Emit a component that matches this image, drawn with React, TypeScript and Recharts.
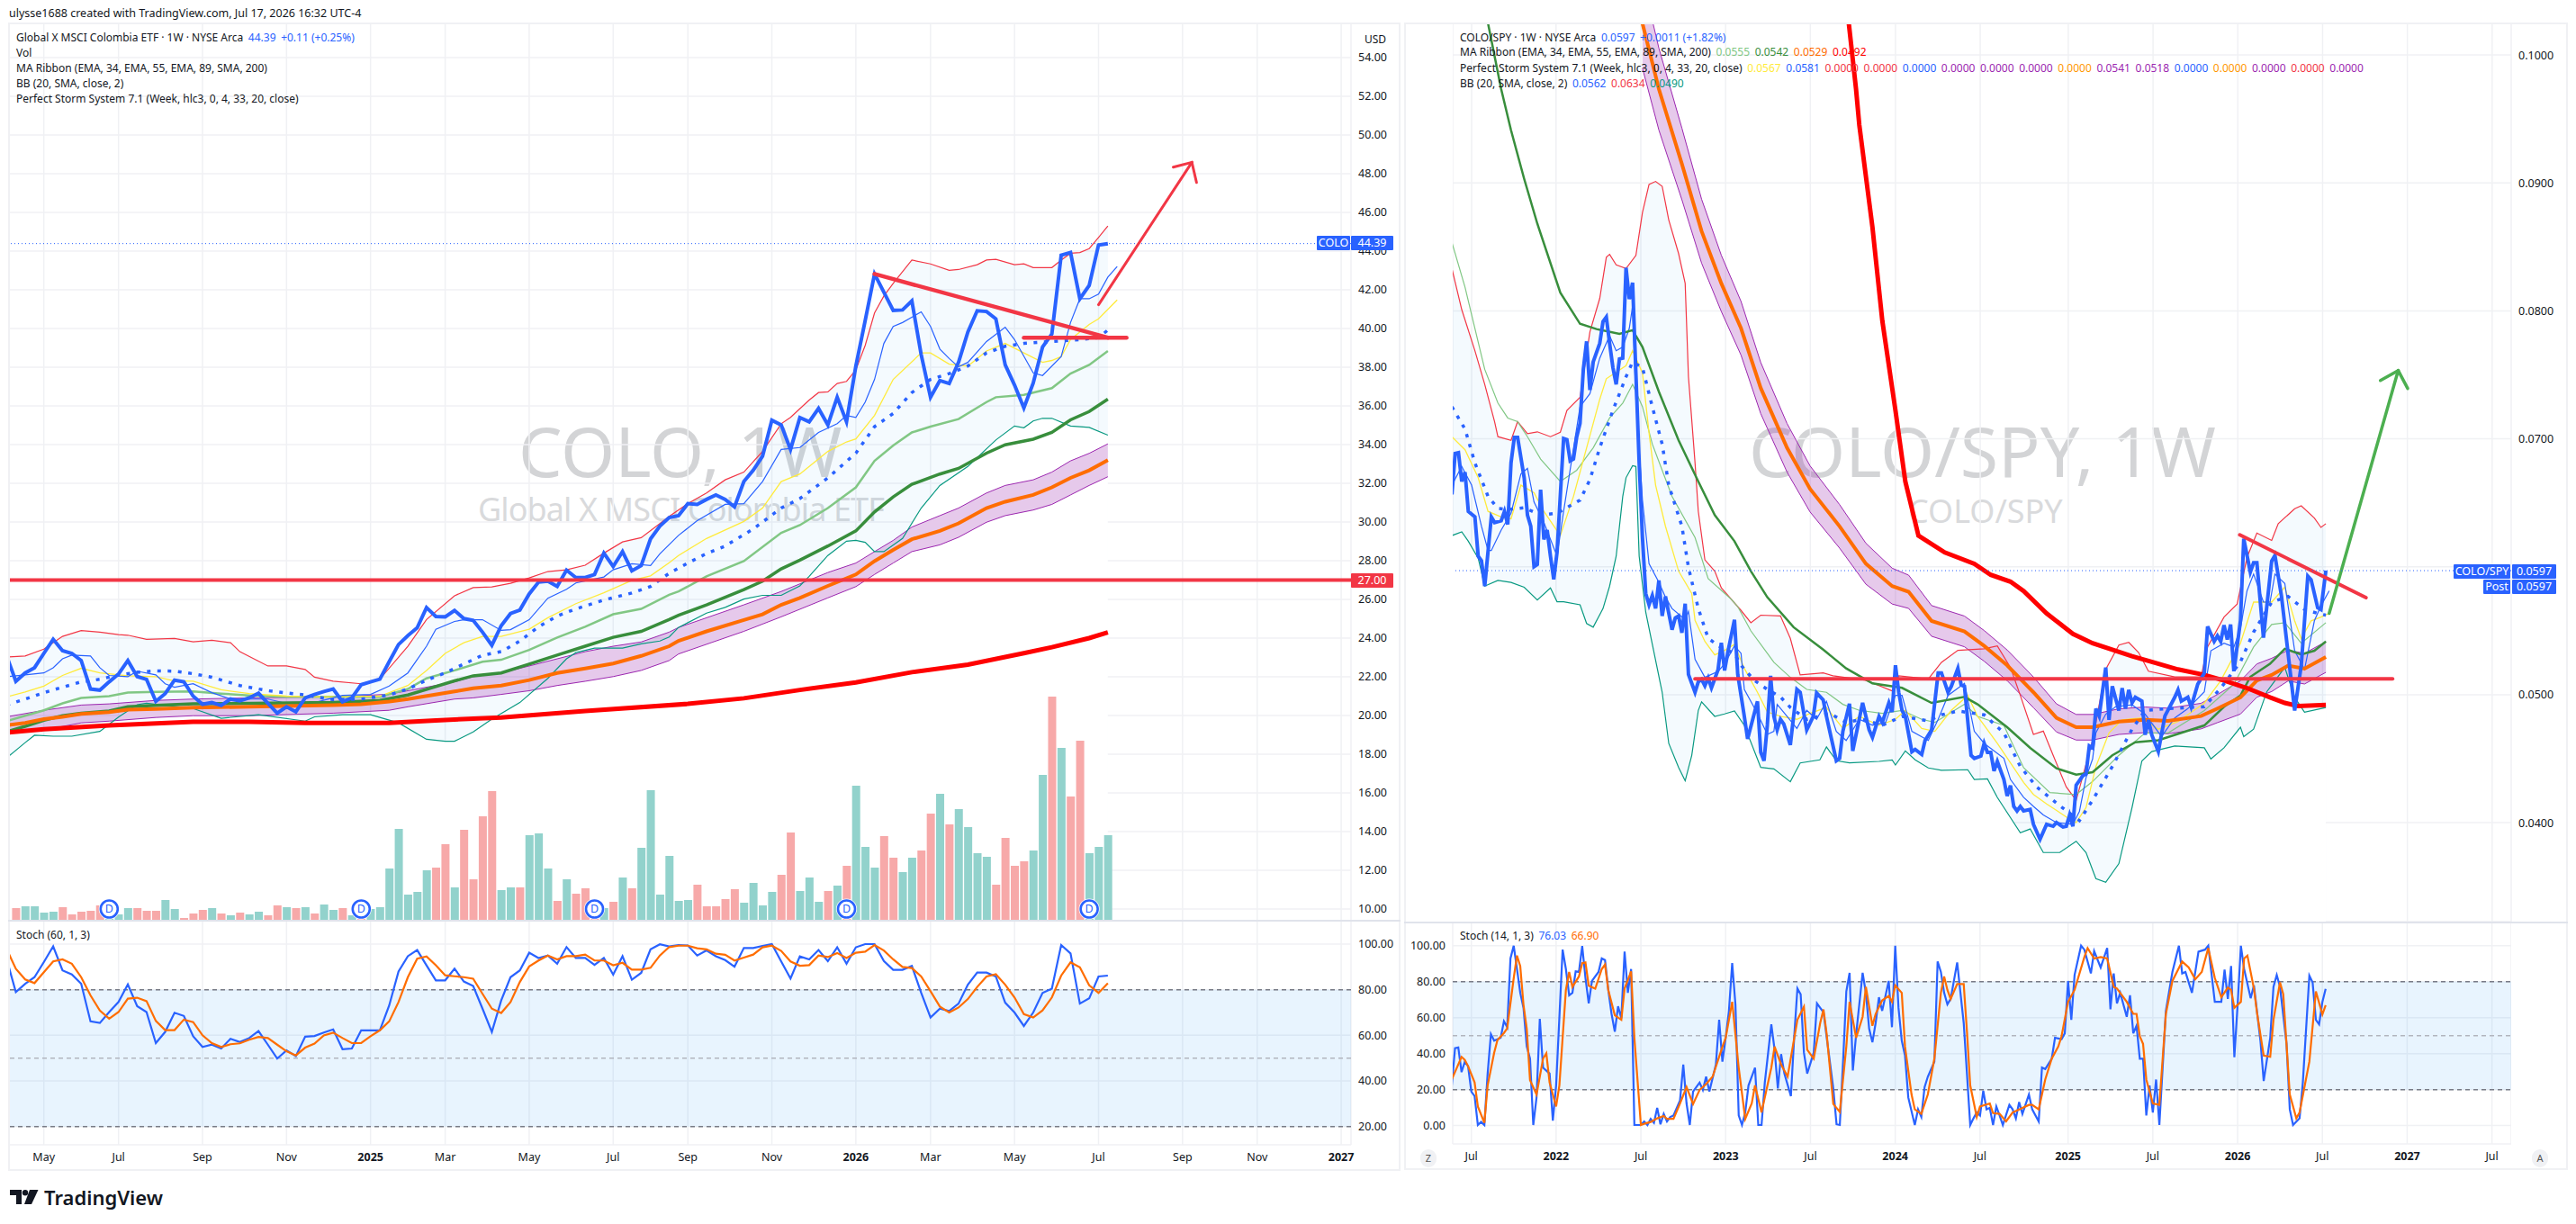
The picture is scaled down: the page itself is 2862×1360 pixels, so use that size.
import { Area, Bar, CartesianGrid, ComposedChart, Line, ReferenceArea, ReferenceDot, ReferenceLine, XAxis, YAxis } from "recharts";

type Pt = [number, number];

// ---- COLO weekly (left chart), week 0 = first full bar, one value per week from week -1
const coloClose = [23.1, 21.77, 22.2, 22.47, 23.21, 23.94, 23.35, 23.21, 22.84, 21.37, 21.31, 21.74, 22.14, 22.84, 22.01, 21.87, 20.73, 21.13, 21.83, 21.74, 21.0, 20.58, 20.67, 20.52, 20.85, 20.76, 20.91, 21.15, 20.63, 20.12, 20.45, 20.19, 20.91, 21.09, 21.24, 21.37, 20.71, 20.91, 21.59, 21.74, 21.88, 22.78, 23.67, 24.13, 24.53, 25.58, 25.12, 25.1, 25.43, 25.01, 24.92, 24.31, 23.63, 24.64, 25.27, 25.45, 26.28, 26.89, 26.94, 26.67, 27.51, 27.13, 27.13, 27.29, 28.39, 27.7, 28.47, 27.48, 27.75, 29.13, 29.79, 30.23, 30.33, 30.95, 30.91, 31.17, 31.4, 31.17, 30.78, 32.09, 32.67, 33.4, 35.26, 35.02, 33.75, 35.4, 35.18, 35.87, 35.02, 36.45, 35.18, 38.06, 40.41, 42.82, 41.88, 40.94, 40.96, 41.43, 38.65, 36.45, 37.31, 37.16, 38.25, 39.82, 40.92, 40.88, 40.5, 38.12, 37.08, 35.9, 37.18, 39.04, 39.72, 43.79, 43.93, 41.54, 42.23, 44.32, 44.39];
const coloStochK = [93.6, 79, 82.6, 85.5, 92.1, 99, 88.5, 86.7, 82.6, 66.1, 65.4, 70.2, 74.6, 82.3, 72.8, 70.2, 56.6, 61.5, 69.9, 68.5, 59.6, 54.9, 55.9, 54.2, 58.5, 57.1, 58.8, 61.9, 55.9, 49.8, 53.4, 50.9, 59.4, 59.7, 61.2, 62.6, 53.9, 54.2, 62.2, 62.2, 62.2, 73.1, 88, 94.7, 97.4, 90.7, 84.1, 84.1, 89.2, 83.6, 81.6, 71.7, 61.5, 75.3, 85.5, 88.5, 96.2, 93.9, 95, 91.4, 98.7, 93.9, 93.9, 90.9, 93.9, 86.6, 94.7, 84.4, 87.4, 97.7, 99.9, 99, 99.6, 99.4, 95, 97.2, 94.7, 93, 90.1, 98.3, 98.3, 99.2, 100, 92.4, 84.9, 94.6, 93.3, 97.4, 92.5, 98.6, 91.4, 98.6, 100, 100, 92.6, 88.7, 88.7, 90.4, 78.6, 67.8, 71.7, 70.7, 73.9, 82.2, 87.5, 87.5, 85.8, 74.3, 70, 64.1, 70, 78.6, 80.5, 99.6, 95.9, 73.9, 76.2, 85.8, 86.2];
const coloStochD = [98, 89.2, 84.5, 82.9, 87.7, 92.4, 93.3, 91.4, 85.5, 77.5, 70.9, 67.3, 70.2, 76.1, 76.5, 75, 66.3, 62.3, 62.3, 66.9, 65.8, 60, 56.6, 54.9, 56.1, 56.5, 58.1, 59.3, 58.8, 55.9, 53, 51.2, 54.6, 56.4, 60, 61.2, 58.8, 56.6, 56.6, 59.6, 62.2, 66.1, 74.6, 85.5, 93.6, 94.6, 90.7, 86.3, 85.9, 85.5, 84.8, 78.2, 71.7, 69.8, 74.6, 83.4, 90.2, 92.8, 95, 93.3, 94.7, 94.7, 95.4, 92.8, 92.8, 90.7, 91.8, 88.8, 88.8, 89.6, 95, 98.7, 99.3, 99.3, 98.2, 97.7, 95.8, 95.3, 92.8, 94.1, 95.4, 98.6, 99.3, 97, 92.4, 90.5, 90.8, 95, 94.3, 96.1, 93.9, 96.2, 96.7, 99.6, 97.2, 93.3, 90, 89.5, 85.8, 79.3, 72.6, 70, 72.2, 75.9, 81.2, 85.8, 86.8, 82.2, 76.6, 69.3, 67.8, 70.9, 76.6, 86.2, 92, 89.8, 81.9, 78.6, 82.8];

// volume in thousands of shares, from week 0; up[] holds 1 for a green bar
const coloVolume = [14, 16, 16, 9, 10, 15, 7, 10, 11, 17, 6, 7, 14, 14, 11, 11, 23, 13, 3, 8, 12, 14, 8, 6, 9, 7, 10, 6, 17, 15, 14, 15, 8, 18, 12, 14, 6, 8, 13, 15, 58, 102, 29, 32, 56, 59, 85, 37, 101, 46, 116, 144, 34, 37, 37, 95, 97, 58, 22, 46, 30, 36, 14, 14, 21, 48, 36, 81, 145, 29, 72, 22, 23, 40, 16, 16, 24, 35, 20, 42, 17, 32, 51, 98, 33, 48, 21, 33, 39, 61, 150, 82, 59, 94, 70, 54, 70, 78, 119, 141, 107, 124, 104, 75, 71, 40, 92, 61, 66, 78, 162, 249, 192, 138, 200, 75, 82, 95];
const coloVolumeUp = [0, 1, 1, 1, 1, 0, 0, 0, 0, 0, 1, 1, 1, 0, 0, 0, 1, 1, 0, 0, 0, 1, 0, 1, 0, 1, 1, 0, 0, 1, 0, 1, 0, 1, 1, 0, 1, 0, 1, 1, 1, 1, 1, 1, 1, 0, 0, 1, 0, 0, 0, 0, 1, 1, 0, 1, 1, 1, 0, 1, 0, 0, 0, 1, 0, 1, 0, 1, 1, 1, 1, 1, 1, 0, 0, 0, 0, 0, 1, 1, 1, 1, 0, 0, 1, 1, 1, 0, 1, 0, 1, 1, 1, 0, 0, 1, 1, 0, 0, 1, 0, 1, 1, 1, 1, 0, 0, 0, 0, 1, 1, 0, 1, 0, 0, 1, 1, 1];
const coloDividends = [10, 37, 62, 89, 115];

const coloBbUpper: Pt[] = [[-1, 23.02], [1, 23.08], [3, 23.43], [5, 24.09], [7, 24.39], [9, 24.31], [11, 24.18], [12, 24.15], [14, 23.94], [17, 23.98], [19, 23.81], [21, 23.89], [23, 23.76], [24, 23.3], [27, 22.56], [29, 22.56], [31, 22.38], [32, 21.98], [34, 21.77], [37, 21.64], [39, 21.88], [42, 23.58], [44, 24.96], [47, 26.19], [49, 26.61], [51, 26.65], [53, 26.83], [55, 27.11], [57, 27.44], [59, 27.53], [61, 27.77], [63, 28.39], [65, 28.97], [67, 29.19], [69, 29.92], [70, 30.29], [72, 30.95], [74, 31.5], [76, 32.18], [78, 32.58], [80, 33.65], [82, 35.08], [83, 35.41], [85, 36.3], [86, 36.69], [87, 36.73], [88, 37.16], [89, 37.27], [90, 37.86], [91, 39.13], [92, 40.8], [93, 41.68], [94, 42.33], [96, 43.54], [98, 43.34], [100, 43.01], [101, 43.05], [103, 43.3], [104, 43.54], [105, 43.58], [107, 43.3], [108, 43.34], [109, 43.15], [111, 43.15], [112, 43.54], [113, 43.89], [114, 43.93], [115, 44.13], [116, 44.71], [117, 45.3]];
const coloBbLower: Pt[] = [[-1, 17.8], [1, 18.6], [2, 18.98], [4, 18.93], [6, 18.93], [9, 19.18], [11, 19.92], [13, 20.56], [14, 20.63], [19, 20.36], [22, 19.86], [26, 20.04], [31, 19.71], [32, 19.93], [35, 20.04], [38, 20.04], [41, 19.62], [44, 18.77], [46, 18.67], [47, 18.67], [49, 19.15], [51, 19.81], [54, 20.67], [57, 21.92], [59, 22.93], [60, 23.25], [62, 23.48], [65, 23.48], [67, 23.7], [69, 23.85], [70, 24.06], [71, 24.55], [74, 25.29], [76, 25.59], [78, 26.02], [80, 26.21], [82, 26.21], [84, 26.7], [85, 27.19], [87, 28.27], [89, 29.01], [90, 29.05], [91, 28.95], [92, 28.47], [93, 28.47], [95, 29.15], [97, 30.72], [99, 31.89], [102, 32.87], [105, 34.24], [107, 34.96], [108, 34.87], [109, 35.22], [110, 35.36], [111, 35.36], [113, 34.96], [115, 34.89], [117, 34.49]];
const coloBbBasis: Pt[] = [[-1, 20.54], [1, 20.85], [3, 21.18], [5, 21.46], [7, 21.74], [9, 21.87], [11, 22.1], [13, 22.23], [15, 22.31], [17, 22.29], [19, 22.16], [21, 21.98], [24, 21.55], [27, 21.28], [31, 21.06], [34, 20.82], [37, 20.85], [40, 21.06], [42, 21.37], [44, 21.83], [46, 22.2], [48, 22.66], [50, 23.12], [52, 23.3], [54, 23.85], [56, 24.59], [58, 25.14], [60, 25.51], [63, 25.97], [66, 26.33], [68, 26.67], [70, 27.35], [72, 27.88], [74, 28.37], [76, 28.76], [79, 29.64], [82, 30.72], [84, 31.21], [87, 32.28], [90, 33.56], [92, 34.93], [94, 35.61], [96, 36.69], [98, 37.37], [100, 37.67], [102, 38.06], [104, 38.74], [106, 39.08], [108, 39.23], [111, 39.33], [114, 39.43], [116, 39.53], [117, 39.92]];
const coloStormBlue: Pt[] = [[-1, 22.01], [1, 22.1], [3, 22.2], [4, 22.47], [5, 22.93], [6, 23.12], [8, 23.08], [9, 22.47], [10, 22.07], [12, 22.01], [13, 22.29], [15, 22.1], [16, 21.64], [17, 21.46], [19, 21.64], [21, 21.18], [23, 20.85], [27, 20.85], [29, 20.63], [31, 20.54], [35, 21.04], [38, 21.09], [40, 21.52], [42, 22.2], [44, 23.58], [45, 24.46], [47, 24.86], [48, 24.95], [50, 24.95], [52, 24.4], [53, 24.44], [55, 24.95], [57, 26.06], [59, 26.52], [60, 26.85], [63, 27.16], [64, 27.53], [66, 27.84], [68, 27.75], [69, 28.36], [71, 29.31], [73, 30.07], [76, 30.91], [78, 30.95], [80, 32.09], [82, 33.75], [84, 33.85], [86, 34.63], [88, 35.08], [89, 35.51], [90, 35.41], [91, 36.2], [92, 37.37], [93, 39.23], [94, 40.11], [95, 40.31], [97, 40.86], [98, 40.11], [99, 38.94], [100, 38.45], [101, 38.02], [102, 38.25], [104, 39.33], [106, 40.07], [107, 39.43], [109, 37.71], [110, 37.57], [112, 38.55], [113, 40.31], [114, 41.54], [115, 41.54], [116, 41.78], [117, 42.66], [118, 43.21]];
const coloStormYellow: Pt[] = [[-1, 20.96], [1, 21.22], [3, 21.52], [5, 22.07], [7, 22.44], [9, 22.2], [12, 22.05], [15, 22.01], [17, 21.79], [19, 21.77], [22, 21.33], [25, 21.13], [29, 21], [34, 20.96], [39, 21], [42, 21.55], [44, 22.33], [46, 23.21], [48, 23.76], [50, 24.09], [52, 24.09], [55, 24.46], [57, 25.05], [60, 25.78], [63, 26.34], [66, 26.98], [68, 27.22], [70, 27.9], [71, 28.27], [74, 29.15], [78, 30.03], [80, 30.72], [82, 32.09], [84, 32.48], [87, 33.65], [89, 34.14], [90, 34.3], [92, 35.51], [94, 37.37], [97, 38.74], [98, 38.74], [100, 38.16], [102, 38.06], [104, 38.84], [106, 39.23], [108, 38.74], [110, 38.25], [111, 38.35], [112, 38.55], [113, 39.43], [115, 40.21], [116, 40.5], [118, 41.48]];
const coloEma34: Pt[] = [[-1, 19.71], [1, 19.99], [3, 20.27], [5, 20.63], [7, 20.91], [10, 21], [12, 21.19], [15, 21.22], [19, 21.24], [22, 21.13], [25, 21.04], [29, 20.96], [34, 20.96], [39, 20.96], [42, 21.37], [44, 21.92], [47, 22.33], [50, 22.78], [52, 22.88], [55, 23.39], [58, 24.03], [61, 24.59], [64, 25.23], [67, 25.51], [70, 26.24], [71, 26.41], [74, 27.19], [78, 27.98], [82, 29.44], [84, 29.84], [87, 30.72], [90, 31.79], [92, 33.16], [94, 33.95], [96, 34.63], [98, 34.93], [101, 35.32], [104, 36.2], [105, 36.45], [108, 36.57], [111, 36.92], [113, 37.67], [115, 38.12], [117, 38.84]];
const coloEma55: Pt[] = [[-1, 19.16], [1, 19.44], [3, 19.75], [5, 19.99], [7, 20.12], [10, 20.23], [12, 20.45], [15, 20.52], [19, 20.6], [25, 20.63], [34, 20.67], [39, 20.78], [42, 21.06], [47, 21.79], [49, 22.05], [52, 22.2], [55, 22.66], [58, 23.12], [61, 23.58], [64, 24.04], [67, 24.35], [70, 24.96], [71, 25.18], [74, 25.72], [78, 26.51], [80, 26.94], [82, 27.58], [84, 28.03], [87, 28.76], [90, 29.54], [92, 30.52], [94, 31.3], [96, 31.95], [99, 32.48], [101, 32.77], [104, 33.56], [106, 33.99], [109, 34.28], [111, 34.63], [113, 35.28], [115, 35.71], [117, 36.35]];
const coloEma89: Pt[] = [[-1, 19.49], [1, 19.62], [3, 19.81], [5, 19.93], [7, 20.08], [10, 20.17], [12, 20.3], [15, 20.34], [19, 20.41], [25, 20.45], [34, 20.54], [37, 20.58], [40, 20.72], [42, 20.85], [47, 21.24], [49, 21.41], [52, 21.55], [55, 21.83], [58, 22.2], [61, 22.43], [64, 22.69], [67, 23.08], [70, 23.58], [71, 23.86], [74, 24.35], [78, 24.94], [80, 25.23], [82, 25.72], [84, 26.08], [87, 26.7], [90, 27.29], [92, 27.98], [94, 28.56], [96, 29.11], [99, 29.54], [101, 29.93], [104, 30.72], [106, 31.05], [109, 31.4], [111, 31.79], [113, 32.28], [115, 32.67], [117, 33.2]];
const coloSma200: Pt[] = [[-1, 19.12], [3, 19.29], [10, 19.49], [19, 19.68], [25, 19.68], [31, 19.62], [40, 19.62], [45, 19.75], [52, 19.9], [61, 20.23], [72, 20.6], [78, 20.89], [84, 21.32], [90, 21.71], [96, 22.24], [102, 22.63], [108, 23.22], [111, 23.53], [115, 24], [117, 24.3]];
const coloRibbonWeeks = [-1, 3, 7, 10, 15, 19, 25, 34, 40, 42, 47, 49, 52, 55, 58, 61, 64, 67, 70, 71, 78, 82, 87, 90, 92, 94, 96, 99, 101, 104, 106, 109, 111, 113, 115, 117];
const coloRibbonUpper = [19.93, 20.27, 20.54, 20.6, 20.78, 20.85, 20.91, 20.96, 21.1, 21.28, 21.74, 22.01, 22.2, 22.56, 22.93, 23.3, 23.58, 23.8, 24.31, 24.55, 25.72, 26.41, 27.39, 27.88, 28.47, 29.05, 29.74, 30.33, 30.72, 31.5, 31.89, 32.18, 32.58, 33.16, 33.55, 34.04];
const coloRibbonLower = [19.07, 19.25, 19.62, 19.71, 19.9, 19.99, 19.99, 20.12, 20.27, 20.45, 20.85, 20.91, 21.09, 21.28, 21.55, 21.77, 22.01, 22.33, 22.84, 23.18, 24.35, 25.1, 26.08, 26.66, 27.29, 27.88, 28.47, 28.82, 29.21, 29.99, 30.33, 30.62, 30.91, 31.4, 31.89, 32.34];

const coloTrend: Pt[] = [[92, 42.82], [117, 39.53]];
const coloBreakout: Pt[] = [[108, 39.53], [119, 39.53]];
const coloArrow: Pt[] = [[116, 41.23], [126, 48.59]];
const coloArrowHeadA: Pt[] = [[124, 48.34], [126, 48.59]];
const coloArrowHeadB: Pt[] = [[126.5, 47.55], [126, 48.59]];

const coloPriceTicks = [10, 12, 14, 16, 18, 20, 22, 24, 26, 28, 30, 32, 34, 36, 38, 40, 42, 44, 46, 48, 50, 52, 54];
const coloStochTicks = [20, 40, 60, 80, 100];
const coloTimeTicks = [3, 11, 20, 29, 38, 46, 55, 64, 72, 81, 90, 98, 107, 116, 125, 133, 142];
const coloTimeLabels = ["May", "Jul", "Sep", "Nov", "2025", "Mar", "May", "Jul", "Sep", "Nov", "2026", "Mar", "May", "Jul", "Sep", "Nov", "2027"];

// ---- COLO/SPY weekly (right chart), week 0 = first week of Jul 2021
const ratioClose: Pt[] = [[-6, 0.06565], [-5, 0.06886], [-4, 0.06892], [-3, 0.06667], [-2, 0.0674], [-1, 0.06433], [1, 0.0639], [2, 0.06083], [3, 0.06048], [4, 0.05849], [6, 0.0639], [7, 0.06346], [9, 0.0636], [10, 0.06433], [11, 0.06331], [12, 0.06813], [13, 0.07012], [14, 0.07012], [16, 0.06696], [17, 0.06404], [18, 0.06317], [19, 0.06001], [20, 0.06019], [21, 0.06603], [22, 0.06214], [23, 0.06287], [24, 0.06083], [25, 0.05902], [26, 0.06112], [28, 0.07003], [29, 0.06994], [30, 0.06828], [31, 0.06842], [32, 0.07017], [33, 0.0712], [34, 0.07543], [35, 0.07762], [36, 0.07382], [37, 0.07601], [39, 0.07747], [40, 0.07917], [41, 0.07952], [42, 0.07747], [43, 0.07558], [44, 0.07426], [45, 0.07625], [46, 0.07631], [47, 0.08337], [48, 0.08092], [49, 0.0822], [50, 0.07514], [51, 0.06813], [52, 0.06229], [53, 0.05791], [54, 0.05703], [55, 0.05776], [56, 0.05674], [57, 0.05893], [58, 0.05616], [59, 0.05768], [61, 0.05508], [62, 0.05601], [63, 0.05616], [64, 0.05484], [65, 0.05712], [66, 0.05159], [67, 0.05089], [68, 0.05019], [69, 0.05101], [70, 0.0512], [71, 0.0507], [72, 0.05131], [73, 0.05054], [75, 0.05195], [76, 0.05406], [77, 0.0519], [78, 0.05335], [80, 0.05586], [81, 0.05159], [82, 0.04995], [83, 0.04831], [84, 0.04655], [87, 0.04948], [88, 0.0455], [89, 0.04484], [90, 0.04761], [91, 0.05148], [92, 0.04831], [93, 0.04725], [94, 0.04808], [95, 0.04772], [97, 0.04608], [98, 0.04831], [99, 0.05042], [100, 0.05019], [102, 0.04725], [104, 0.04831], [105, 0.05014], [107, 0.0496], [108, 0.04831], [111, 0.04484], [112, 0.04503], [113, 0.04714], [115, 0.0493], [116, 0.04561], [119, 0.04937], [121, 0.04725], [122, 0.04667], [124, 0.04831], [125, 0.04784], [127, 0.04937], [128, 0.04866], [129, 0.0523], [130, 0.05019], [131, 0.04878], [132, 0.04831], [134, 0.04554], [135, 0.04573], [137, 0.04533], [138, 0.04643], [140, 0.04725], [142, 0.05171], [143, 0.05171], [145, 0.05019], [146, 0.05066], [148, 0.05206], [149, 0.05077], [150, 0.05066], [152, 0.04526], [153, 0.04503], [155, 0.04521], [156, 0.0462], [157, 0.0455], [158, 0.0455], [159, 0.04404], [160, 0.04479], [162, 0.04338], [163, 0.04209], [164, 0.04291], [165, 0.04127], [166, 0.04092], [167, 0.04127], [168, 0.04092], [170, 0.04104], [171, 0.03987], [173, 0.0387], [175, 0.03987], [177, 0.03972], [178, 0.04001], [180, 0.03966], [181, 0.03972], [182, 0.0406], [183, 0.03972], [184, 0.04293], [186, 0.04366], [187, 0.04381], [188, 0.046], [189, 0.04585], [190, 0.04892], [191, 0.04833], [193, 0.05213], [194, 0.04804], [195, 0.05067], [197, 0.04877], [198, 0.05052], [199, 0.04892], [200, 0.05038], [201, 0.04936], [202, 0.0498], [204, 0.0495], [205, 0.04687], [206, 0.04804], [207, 0.04687], [209, 0.04556], [211, 0.04833], [214, 0.0498], [215, 0.05038], [216, 0.0495], [218, 0.0498], [219, 0.04906], [221, 0.05082], [223, 0.05169], [224, 0.05534], [226, 0.05417], [227, 0.05461], [228, 0.05417], [229, 0.05543], [230, 0.05432], [231, 0.05549], [232, 0.05184], [234, 0.05578], [235, 0.0622], [237, 0.05958], [238, 0.06031], [239, 0.06031], [241, 0.05446], [243.5, 0.06045], [244.5, 0.06089], [246.5, 0.05768], [250.5, 0.04877], [252.5, 0.05228], [254.5, 0.05928], [255.5, 0.05899], [257.5, 0.0568], [258.5, 0.05666], [260, 0.0597]];
const ratioBbUpper: Pt[] = [[-6, 0.08331], [-3, 0.0801], [1, 0.07689], [4, 0.07426], [7, 0.07134], [8, 0.07017], [12, 0.06988], [14, 0.07134], [17, 0.07041], [20, 0.07055], [24, 0.07017], [27, 0.07052], [29, 0.07222], [33, 0.07324], [36, 0.07835], [39, 0.08098], [41, 0.08419], [42, 0.08442], [44, 0.0836], [47, 0.08331], [50, 0.08434], [52, 0.08769], [54, 0.08988], [56, 0.09012], [58, 0.08974], [60, 0.08711], [63, 0.08448], [65, 0.08215], [66, 0.07484], [68, 0.06813], [69, 0.06433], [71, 0.06054], [74, 0.05966], [76, 0.05835], [79, 0.05747], [82, 0.05659], [85, 0.05563], [88, 0.05622], [94, 0.05616], [97, 0.05441], [100, 0.05155], [104, 0.05164], [107, 0.05171], [110, 0.05148], [120, 0.05113], [128, 0.0503], [130, 0.05148], [139, 0.05124], [143, 0.05253], [148, 0.05347], [156, 0.05359], [160, 0.05382], [164, 0.05213], [167, 0.04995], [171, 0.0469], [174, 0.04716], [177, 0.04527], [181, 0.04279], [184, 0.04176], [189, 0.04643], [193, 0.05198], [197, 0.05388], [200, 0.05409], [203, 0.0533], [206, 0.05184], [214, 0.0514], [222, 0.0514], [224, 0.05374], [229, 0.05607], [233, 0.05709], [236, 0.06074], [239, 0.06264], [243.5, 0.06206], [245.5, 0.06337], [250.5, 0.06454], [252.5, 0.06477], [256.5, 0.06381], [258.5, 0.06308], [260, 0.06337]];
const ratioBbLower: Pt[] = [[-6, 0.06244], [-3, 0.06273], [-1, 0.062], [2, 0.06068], [4, 0.05849], [8, 0.05893], [12, 0.05878], [16, 0.0584], [20, 0.05741], [24, 0.05835], [26, 0.05727], [28, 0.05727], [33, 0.05703], [35, 0.05557], [37, 0.05528], [40, 0.05674], [42, 0.05849], [44, 0.06083], [46, 0.0655], [47, 0.06696], [49, 0.0679], [50, 0.06784], [51, 0.06083], [53, 0.05645], [55, 0.05394], [58, 0.05019], [60, 0.0462], [63, 0.04432], [65, 0.04327], [67, 0.04526], [69, 0.04878], [70, 0.04944], [74, 0.04831], [77, 0.0485], [80, 0.04873], [83, 0.04761], [88, 0.04432], [92, 0.0442], [97, 0.0432], [100, 0.04467], [106, 0.04491], [108, 0.04592], [111, 0.04484], [115, 0.04467], [124, 0.04479], [128, 0.04491], [129, 0.04451], [132, 0.04561], [135, 0.04491], [139, 0.04428], [143, 0.04409], [151, 0.04414], [153, 0.04338], [157, 0.04343], [160, 0.04198], [167, 0.03921], [170, 0.03951], [174, 0.03767], [179, 0.03767], [184, 0.03855], [187, 0.03767], [190, 0.03563], [193, 0.03534], [197, 0.0368], [201, 0.04118], [204, 0.04483], [207, 0.04556], [214, 0.046], [223, 0.04585], [225, 0.04498], [229, 0.04585], [234, 0.04746], [235, 0.04673], [238, 0.04731], [242, 0.05023], [247.5, 0.05213], [250.5, 0.04979], [253.5, 0.04863], [260, 0.049]];
const ratioBbBasis: Pt[] = [[-6, 0.07251], [-2, 0.07076], [1, 0.06813], [5, 0.0655], [8, 0.06457], [11, 0.06448], [16, 0.06462], [21, 0.06404], [26, 0.06419], [33, 0.06521], [36, 0.06681], [39, 0.0693], [43, 0.07222], [47, 0.07485], [49, 0.07601], [52, 0.07558], [55, 0.07251], [58, 0.06959], [60, 0.06638], [64, 0.06317], [66, 0.05995], [69, 0.05674], [72, 0.05441], [76, 0.05368], [80, 0.05323], [82, 0.0523], [86, 0.05113], [90, 0.05042], [94, 0.04983], [97, 0.04901], [102, 0.04808], [109, 0.04854], [114, 0.04784], [119, 0.04808], [125, 0.04761], [131, 0.04831], [139, 0.04796], [143, 0.04843], [148, 0.04873], [156, 0.04843], [162, 0.04702], [167, 0.04439], [172, 0.04279], [179, 0.04133], [185, 0.04016], [189, 0.04176], [195, 0.04439], [201, 0.04731], [205, 0.04877], [212, 0.04892], [223, 0.04906], [228, 0.05052], [234, 0.05257], [238, 0.0549], [243.5, 0.05724], [248.5, 0.05768], [253.5, 0.05666], [257.5, 0.05636], [260, 0.05622]];
const ratioStormBlue: Pt[] = [[-6, 0.06638], [-3, 0.06784], [0, 0.06638], [3, 0.06317], [5, 0.06127], [6, 0.06127], [9, 0.06287], [12, 0.06419], [15, 0.06726], [17, 0.06769], [19, 0.06506], [22, 0.06346], [26, 0.06083], [28, 0.06433], [33, 0.07251], [36, 0.07353], [39, 0.07631], [42, 0.07806], [44, 0.07689], [46, 0.07718], [48, 0.07864], [49, 0.0804], [50, 0.07309], [52, 0.06521], [54, 0.06024], [57, 0.05879], [59, 0.05762], [61, 0.05674], [65, 0.05587], [66, 0.05652], [68, 0.05277], [71, 0.05136], [75, 0.05183], [77, 0.05242], [80, 0.05382], [82, 0.05324], [83, 0.05042], [87, 0.04854], [90, 0.0469], [92, 0.04714], [93, 0.04925], [96, 0.04831], [99, 0.04737], [102, 0.04878], [105, 0.04808], [108, 0.04948], [111, 0.04714], [114, 0.04643], [118, 0.04808], [122, 0.04761], [126, 0.04784], [129, 0.04995], [131, 0.04995], [134, 0.04714], [139, 0.04643], [142, 0.04808], [145, 0.04995], [150, 0.05089], [153, 0.04714], [156, 0.0462], [162, 0.04503], [164, 0.04338], [168, 0.04198], [171, 0.04127], [174, 0.0406], [178, 0.04001], [183, 0.03987], [185, 0.04089], [187, 0.04352], [189, 0.04498], [190, 0.04702], [193, 0.04848], [196, 0.04906], [201, 0.04921], [205, 0.04848], [210, 0.04673], [214, 0.04819], [218, 0.04892], [223, 0.05023], [225, 0.05344], [229, 0.05403], [232, 0.05373], [234, 0.05519], [236, 0.05812], [238, 0.05943], [241, 0.05724], [243, 0.05724], [244.5, 0.05943], [247.5, 0.0587], [250.5, 0.05344], [253.5, 0.05198], [256.5, 0.05578], [258.5, 0.05695], [261, 0.05812]];
const ratioStormYellow: Pt[] = [[-6, 0.07017], [-2, 0.06915], [2, 0.06696], [5, 0.06433], [9, 0.0639], [12, 0.06375], [15, 0.06638], [19, 0.06579], [22, 0.06433], [27, 0.06244], [31, 0.0655], [35, 0.0693], [39, 0.07309], [41, 0.0747], [47, 0.07572], [49, 0.07689], [52, 0.07514], [54, 0.07047], [56, 0.06638], [59, 0.06317], [63, 0.05966], [67, 0.05791], [68, 0.05582], [71, 0.05417], [74, 0.05312], [77, 0.05347], [80, 0.05394], [83, 0.05206], [87, 0.05019], [90, 0.04866], [94, 0.04831], [99, 0.04808], [103, 0.04854], [108, 0.04901], [113, 0.04737], [118, 0.04831], [124, 0.04761], [129, 0.04808], [132, 0.04878], [137, 0.04737], [141, 0.04714], [146, 0.04878], [151, 0.04995], [154, 0.04831], [160, 0.0462], [168, 0.04315], [171, 0.04221], [175, 0.04147], [181, 0.04045], [184, 0.04001], [187, 0.04118], [190, 0.04439], [194, 0.04702], [198, 0.04804], [204, 0.04819], [209, 0.04731], [215, 0.0479], [223, 0.04935], [228, 0.0511], [234, 0.05403], [238, 0.05724], [243.5, 0.05724], [247.5, 0.05841], [250.5, 0.05578], [252.5, 0.05438], [255.5, 0.05578], [258.5, 0.05607], [261, 0.05636]];
const ratioEma34: Pt[] = [[-6, 0.08536], [-2, 0.08185], [1, 0.07864], [4, 0.07543], [8, 0.0728], [11, 0.07163], [14, 0.07134], [17, 0.07017], [21, 0.06842], [27, 0.06667], [32, 0.06755], [37, 0.0693], [42, 0.07163], [46, 0.0728], [49, 0.07426], [52, 0.07251], [55, 0.06959], [61, 0.0655], [68, 0.06229], [72, 0.05908], [79, 0.05747], [81, 0.05689], [85, 0.05499], [90, 0.05324], [92, 0.05253], [97, 0.05136], [102, 0.05042], [108, 0.05019], [113, 0.04925], [118, 0.04878], [125, 0.04854], [131, 0.04878], [137, 0.04808], [141, 0.04784], [150, 0.04925], [154, 0.04831], [162, 0.04761], [168, 0.0443], [176, 0.04235], [184, 0.0422], [189, 0.04322], [197, 0.04527], [205, 0.04702], [212, 0.04702], [223, 0.04877], [232, 0.05081], [238, 0.05373], [243.5, 0.05549], [247.5, 0.05563], [252.5, 0.05403], [260, 0.05563]];
const ratioEma55: Pt[] = [[5, 0.10247], [9, 0.09733], [12, 0.09412], [16, 0.09032], [20, 0.08682], [27, 0.08142], [33, 0.07899], [38, 0.07858], [45, 0.0782], [49, 0.07849], [52, 0.07718], [57, 0.07368], [63, 0.06988], [69, 0.06667], [74, 0.06404], [80, 0.062], [85, 0.05966], [90, 0.05762], [98, 0.05528], [107, 0.05353], [114, 0.05206], [122, 0.05089], [131, 0.05054], [140, 0.04936], [150, 0.04983], [154, 0.04925], [163, 0.04746], [170, 0.04585], [178, 0.04425], [184, 0.04375], [189, 0.04395], [195, 0.04527], [202, 0.04629], [209, 0.04644], [216, 0.04702], [223, 0.0476], [229, 0.04906], [234, 0.04994], [237, 0.0514], [243, 0.05242], [247.5, 0.05359], [252.5, 0.05315], [256.5, 0.05344], [260, 0.05417]];
const ratioEma89Weeks = [52, 57, 64, 70, 76, 82, 88, 96, 103, 112, 120, 128, 133, 140, 150, 156, 163, 171, 178, 184, 189, 197, 205, 212, 222, 227, 234, 239, 243.5, 248.5, 253.5, 260];
const ratioEma89 = [0.10247, 0.09733, 0.09149, 0.08623, 0.08215, 0.07864, 0.07397, 0.0693, 0.06609, 0.06316, 0.06024, 0.05849, 0.05805, 0.05577, 0.05495, 0.05382, 0.0523, 0.05019, 0.04819, 0.04746, 0.04746, 0.0479, 0.04804, 0.04795, 0.04833, 0.04892, 0.04979, 0.05111, 0.05155, 0.05228, 0.05204, 0.05295];
const ratioRibbonUpper = [0.10597, 0.10053, 0.09429, 0.08873, 0.08435, 0.08074, 0.07597, 0.0712, 0.06789, 0.06486, 0.06184, 0.05989, 0.05935, 0.05697, 0.05615, 0.05502, 0.0535, 0.05139, 0.04929, 0.04846, 0.04846, 0.0489, 0.04904, 0.04895, 0.04933, 0.05002, 0.05109, 0.05241, 0.05285, 0.05348, 0.05324, 0.05415];
const ratioRibbonLower = [0.09897, 0.09413, 0.08869, 0.08373, 0.07995, 0.07654, 0.07197, 0.0674, 0.06429, 0.06146, 0.05864, 0.05709, 0.05675, 0.05457, 0.05375, 0.05262, 0.0511, 0.04899, 0.04709, 0.04646, 0.04646, 0.0469, 0.04704, 0.04695, 0.04733, 0.04782, 0.04849, 0.04981, 0.05025, 0.05108, 0.05084, 0.05175];
const ratioSma200: Pt[] = [[114.8, 0.10247], [117, 0.09733], [118, 0.09452], [122, 0.08653], [125, 0.07923], [129, 0.07222], [132, 0.06667], [136, 0.06243], [144, 0.06112], [153, 0.06024], [158, 0.05937], [164, 0.05884], [168, 0.05811], [175, 0.05636], [183, 0.05476], [189, 0.05403], [201, 0.05301], [207, 0.05257], [215, 0.05198], [223, 0.05155], [229, 0.05111], [236, 0.05052], [243, 0.04979], [247.5, 0.04936], [251.5, 0.04912], [260, 0.04921]];
const ratioStochK: Pt[] = [[-6, 22.3], [-5, 43], [-4, 43.4], [-3, 29.7], [-2, 35.5], [-1, 33], [0, 18.9], [1, 16.4], [2, 0.3], [3, 2], [4, 0.3], [5, 28.9], [6, 50.8], [7, 47.2], [8, 48], [9, 48.8], [10, 58], [11, 54.7], [12, 92.9], [13, 100], [14, 87], [15, 73.8], [16, 65.4], [17, 43.9], [18, 37.2], [19, 0.3], [20, 15.6], [21, 59.3], [22, 32.2], [24, 28.9], [25, 2.7], [26, 22.3], [28, 97.8], [29, 87], [30, 72.4], [31, 73.8], [32, 85.7], [33, 85.4], [34, 99.8], [35, 82.1], [36, 67.9], [37, 80.4], [39, 85.4], [40, 92.9], [41, 92], [42, 75.4], [43, 62.1], [44, 52.2], [45, 66.3], [46, 59.6], [47, 96.7], [48, 73.8], [49, 87], [50, 0.3], [52, 0.3], [53, 2.3], [54, 0.3], [55, 3.7], [56, 1.5], [57, 9.8], [58, 0.7], [59, 6.5], [60, 2.3], [61, 4.8], [62, 5.6], [64, 14], [65, 33.9], [66, 12.3], [67, 0.3], [68, 18.9], [70, 23.9], [71, 19.8], [72, 27.2], [73, 18.9], [75, 33.9], [76, 58.8], [77, 35.5], [78, 48.8], [79, 63.8], [80, 90.4], [81, 67.1], [82, 5.6], [83, 0.3], [84, 7.3], [85, 22.3], [87, 32.2], [88, 0.3], [89, 0.3], [90, 23.9], [92, 56.3], [93, 42.2], [94, 20.6], [95, 39.7], [96, 28.9], [98, 16.4], [99, 48.8], [100, 76.2], [101, 72.9], [102, 40.5], [103, 28.9], [105, 40.5], [106, 67.9], [107, 65.4], [108, 63], [109, 48.8], [111, 20.6], [112, 0.7], [113, 0.3], [114, 35.5], [115, 74.6], [116, 84.9], [117, 30.6], [118, 50.5], [120, 84.9], [121, 73.8], [122, 53.8], [123, 46.3], [124, 57.1], [125, 71.3], [126, 63.8], [128, 80.4], [129, 54.7], [130, 100], [131, 65.4], [132, 47.2], [133, 38.9], [134, 15.6], [136, 0.3], [137, 9], [138, 4.8], [139, 21.4], [140, 27.2], [142, 35.5], [143, 91.2], [144, 85.4], [145, 73.8], [146, 67.4], [147, 70.4], [149, 90.7], [150, 73.8], [151, 57.1], [153, 0.3], [154, 4], [155, 7.3], [156, 5.6], [157, 19.4], [158, 9], [159, 9.8], [160, 0.3], [161, 10.6], [162, 5.6], [163, 0.3], [165, 11.5], [166, 9], [167, 4], [168, 13.1], [169, 6.5], [171, 17.3], [172, 9], [174, 2.3], [175, 32.2], [176, 31.4], [178, 37.2], [179, 48.8], [181, 48], [182, 51.3], [183, 80.4], [184, 58.8], [185, 83.7], [187, 100], [188, 97.8], [190, 84.6], [191, 97], [193, 87.9], [195, 98.7], [196, 64.6], [197, 84.6], [198, 67.9], [199, 73.8], [201, 60.5], [202, 72.4], [203, 51.3], [204, 55.5], [205, 37.2], [206, 37.2], [207, 5.6], [208, 22.3], [209, 7.3], [210, 25.6], [211, 0.3], [213, 63.8], [215, 85.4], [217, 100], [218, 84.6], [219, 85.4], [221, 73.8], [223, 96.7], [225, 97.8], [226, 100], [228, 68.8], [230, 68.8], [231, 86.7], [232, 70.4], [233, 88.7], [234, 38], [235, 67.1], [236, 100], [237, 87], [239, 70.8], [240, 77.9], [242, 47.2], [243, 24.8], [245, 48.8], [246, 77.1], [247, 83.7], [248, 77.1], [250, 45.5], [251, 9], [252, 0.3], [254, 4], [255, 23.9], [257, 83.4], [258, 79.6], [259, 58.8], [260, 56.3], [261, 68.8], [262, 76.03]];
const ratioStochD: Pt[] = [[-6, 25.6], [-3, 38.2], [-2, 36.5], [-1, 33], [1, 24], [2, 10.6], [4, 1.5], [5, 22.3], [7, 40.5], [8, 47.5], [10, 51.5], [11, 54], [13, 82], [14, 94.5], [15, 88.7], [16, 67.1], [17, 53.8], [18, 25.2], [20, 17.3], [22, 37.2], [23, 40.2], [24, 23.9], [26, 10.6], [27, 22.3], [29, 75.4], [30, 85.4], [31, 77.1], [33, 82.9], [34, 90.3], [35, 90.7], [36, 77.8], [38, 76.1], [40, 87], [41, 89.5], [42, 75.4], [44, 61.3], [46, 58.8], [47, 76.2], [49, 85.7], [50, 48.8], [52, 0.3], [53, 1], [55, 2], [57, 4], [59, 5.3], [60, 3.7], [62, 3.7], [64, 12.3], [66, 21.4], [68, 12], [70, 19.8], [72, 23.1], [74, 27.2], [77, 43.8], [78, 48.8], [80, 68.8], [82, 32.2], [84, 3.7], [86, 12.3], [87, 22.3], [89, 7.3], [92, 32.2], [93, 43.9], [95, 33.9], [97, 27.2], [100, 58.8], [102, 66.1], [103, 42.2], [105, 37.2], [107, 57.1], [108, 64.6], [109, 50.5], [111, 12], [113, 7.6], [115, 43.9], [116, 68.8], [118, 48.8], [120, 60.5], [121, 77.1], [123, 55.5], [124, 62.1], [126, 69.6], [128, 72.1], [129, 68.8], [130, 77.9], [132, 73.8], [133, 43.9], [135, 17.3], [136, 9], [138, 6.5], [140, 17.3], [142, 37.2], [144, 73.8], [145, 82.9], [146, 75.4], [147, 70.4], [149, 78.7], [151, 78.7], [152, 52.2], [153, 22.3], [155, 4.8], [156, 10.6], [159, 12.3], [160, 6.9], [162, 6.5], [164, 2.3], [166, 7.3], [168, 9], [171, 11.5], [172, 11.5], [174, 9], [176, 25.6], [178, 37.2], [180, 43.9], [181, 49.6], [183, 68.8], [185, 75.4], [188, 93.7], [189, 98.7], [191, 92.9], [193, 93.7], [195, 92.9], [197, 77.1], [198, 76.2], [201, 68.8], [203, 62.1], [204, 62.1], [205, 49.6], [206, 45.5], [207, 25.6], [209, 12.3], [211, 11.5], [213, 62.1], [215, 80.4], [218, 91.2], [220, 87.9], [222, 81.3], [224, 85.4], [226, 98.7], [228, 82.1], [230, 71.3], [232, 76.7], [233, 75.4], [234, 65.4], [236, 68.8], [237, 92.9], [238, 94.5], [240, 76.2], [241, 62.1], [243, 38.9], [245, 38.2], [246, 58.8], [248, 79.6], [249, 73], [251, 17.3], [253, 4], [254, 7.3], [257, 35.5], [259, 74.6], [261, 61.8], [262, 66.9]];

const ratioSupport: Pt[] = [[68, 0.05125], [280.3, 0.05125]];
const ratioTrend: Pt[] = [[233.8, 0.0625], [272.2, 0.05759]];
const ratioArrow: Pt[] = [[261, 0.05636], [282, 0.07534]];
const ratioArrowHeadA: Pt[] = [[276.6, 0.07456], [282, 0.07534]];
const ratioArrowHeadB: Pt[] = [[284.9, 0.07394], [282, 0.07534]];

const ratioPriceTicks = [0.04, 0.05, 0.06, 0.07, 0.08, 0.09, 0.1];
const ratioStochTicks = [0, 20, 40, 60, 80, 100];
const ratioTimeTicks = [0, 26, 52, 78, 104, 130, 156, 183, 209, 235, 261, 287, 313];
const ratioGridTicks = [0, 25.7, 51.5, 77.3, 103.1, 129, 154.8, 181.6, 207.4, 233.2, 259, 284.8, 310.6];
const ratioTimeLabels = ["Jul", "2022", "Jul", "2023", "Jul", "2024", "Jul", "2025", "Jul", "2026", "Jul", "2027", "Jul"];

const FONT = "'Noto Sans', sans-serif";
const GRID = "#f0f1f4";
const BLUE = "#2962ff";
const RED = "#f23645";
const TEAL = "#089981";
const YELLOW = "#ffeb3b";
const LIGHT_GREEN = "#81c784";
const DARK_GREEN = "#388e3c";
const ORANGE = "#ff6d00";
const PURPLE = "#9c27b0";
const SMA_RED = "#ff0000";
const UP_BAR = "#92d2cc";
const DOWN_BAR = "#f7a9a9";

const toRows = (pts: Pt[]) => pts.map(([w, v]) => ({ w, v }));
const seqRows = (vals: number[], first: number) => vals.map((v, i) => ({ w: first + i, v }));

function line(key: string, pts: { w: number; v: number }[], color: string, width: number, dash?: string) {
  return (
    <Line
      key={key}
      data={pts}
      dataKey="v"
      type="linear"
      stroke={color}
      strokeWidth={width}
      strokeDasharray={dash}
      dot={false}
      activeDot={false}
      legendType="none"
      isAnimationActive={false}
    />
  );
}

function seg(key: string, pts: Pt[], color: string, width: number) {
  return (
    <ReferenceLine
      key={key}
      segment={[{ x: pts[0][0], y: pts[0][1] }, { x: pts[1][0], y: pts[1][1] }]}
      stroke={color}
      strokeWidth={width}
      strokeLinecap="round"
      ifOverflow="visible"
    />
  );
}

function band(key: string, weeks: number[], upper: number[], lower: number[]) {
  const rows = weeks.map((w, i) => ({ w, r: [lower[i], upper[i]] }));
  return (
    <Area
      key={key}
      data={rows}
      dataKey="r"
      type="linear"
      stroke={PURPLE}
      strokeWidth={1}
      fill={PURPLE}
      fillOpacity={0.25}
      dot={false}
      activeDot={false}
      isAnimationActive={false}
    />
  );
}

// the BB shading: tinted from the upper band down, then masked white below the lower band
function bbShade(upper: Pt[], lower: Pt[]) {
  return [
    <Area key="bbU" data={toRows(upper)} dataKey="v" type="linear" stroke="none" fill="#2196f3" fillOpacity={0.05} dot={false} activeDot={false} isAnimationActive={false} />,
    <Area key="bbL" data={toRows(lower)} dataKey="v" type="linear" stroke="none" fill="#ffffff" fillOpacity={1} dot={false} activeDot={false} isAnimationActive={false} />,
  ];
}

function TimeTick(props: any) {
  const { x, y, payload, labels, ticks } = props;
  const label = labels[ticks.indexOf(payload.value)];
  const year = /^\d+$/.test(label);
  return (
    <text x={x} y={y + 10} textAnchor="middle" fontFamily={FONT} fontSize={12.5} fontWeight={year ? 700 : 400} fill="#131722">
      {label}
    </text>
  );
}

function DividendDot(props: any) {
  const { cx, cy } = props;
  return (
    <g>
      <circle cx={cx} cy={cy} r={11.5} fill="#fff" />
      <circle cx={cx} cy={cy} r={9.5} fill="#fff" stroke={BLUE} strokeWidth={2.6} />
      <text x={cx} y={cy + 4.5} textAnchor="middle" fontFamily={FONT} fontSize={12.5} fill={BLUE}>D</text>
    </g>
  );
}

function Abs(props: { x: number; y: number; color?: string; size?: number; weight?: number; spacing?: number; children: any; z?: number }) {
  return (
    <div
      style={{
        position: "absolute",
        left: props.x,
        top: props.y,
        transform: "translateY(-50%)",
        color: props.color ?? "#131722",
        fontSize: props.size ?? 12,
        fontWeight: props.weight ?? 400,
        letterSpacing: props.spacing ?? 0,
        fontFamily: FONT,
        whiteSpace: "pre",
        lineHeight: 1,
        zIndex: props.z ?? 5,
      }}
    >
      {props.children}
    </div>
  );
}

function Tag({ x, top, w, bg, align, text }: { x: number; top: number; w: number; bg: string; align: "center" | "right"; text: string }) {
  return (
    <div
      style={{
        position: "absolute",
        left: x,
        top,
        width: w,
        height: 16,
        boxSizing: "border-box",
        paddingRight: align === "right" ? 4 : 0,
        background: bg,
        color: "#fff",
        borderRadius: 1,
        textAlign: align,
        fontFamily: FONT,
        fontSize: 12.5,
        lineHeight: "16px",
        whiteSpace: "pre",
        zIndex: 6,
      }}
    >
      {text}
    </div>
  );
}

function Legend({ x, y, text, values }: { x: number; y: number; text: string; values?: [string, string][] }) {
  return (
    <Abs x={x} y={y}>
      {text}
      {(values ?? []).map(([v, c], i) => (
        <span key={i} style={{ color: c, marginLeft: 5.6 }}>{v}</span>
      ))}
    </Abs>
  );
}

const stormValues: [string, string][] = [["0.0567", YELLOW], ["0.0581", BLUE], ["0.0000", RED], ["0.0000", RED], ["0.0000", BLUE], ["0.0000", PURPLE], ["0.0000", PURPLE], ["0.0000", PURPLE], ["0.0000", "#ff9800"], ["0.0541", PURPLE], ["0.0518", PURPLE], ["0.0000", BLUE], ["0.0000", "#ff9800"], ["0.0000", PURPLE], ["0.0000", RED], ["0.0000", PURPLE]];

function StochPane(p: {
  x: number; y: number; width: number; height: number; domainX: [number, number]; domainY: [number, number];
  yTicks: number[]; timeTicks: number[]; timeLabels: string[]; k: { w: number; v: number }[]; d: { w: number; v: number }[]; axisSide: "left" | "right";
}) {
  return (
    <div style={{ position: "absolute", left: p.x, top: p.y, zIndex: 2 }}>
      <ComposedChart width={p.width} height={p.height} data={p.k} margin={{ top: 0, right: 0, bottom: 0, left: 0 }}>
        <CartesianGrid stroke={GRID} strokeWidth={1.5} />
        <XAxis
          type="number"
          dataKey="w"
          domain={p.domainX}
          ticks={p.timeTicks}
          allowDataOverflow
          interval={0}
          height={28}
          tickLine={false}
          axisLine={false}
          tick={<TimeTick labels={p.timeLabels} ticks={p.timeTicks} />}
        />
        <YAxis
          orientation={p.axisSide}
          type="number"
          domain={p.domainY}
          ticks={p.yTicks}
          allowDataOverflow
          interval={0}
          width={54}
          tickLine={false}
          axisLine={false}
          tickFormatter={(t: number) => t.toFixed(2)}
          tick={{ fontFamily: FONT, fontSize: 12.5, fill: "#131722" }}
        />
        <ReferenceArea y1={20} y2={80} fill="#2196f3" fillOpacity={0.1} stroke="none" />
        <ReferenceLine y={80} stroke="#787b86" strokeWidth={1.5} strokeDasharray="5 4" />
        <ReferenceLine y={50} stroke="#b2b5be" strokeWidth={1.5} strokeDasharray="5 4" />
        <ReferenceLine y={20} stroke="#787b86" strokeWidth={1.5} strokeDasharray="5 4" />
        {line("k", p.k, BLUE, 2.2)}
        {line("d", p.d, ORANGE, 2.2)}
      </ComposedChart>
    </div>
  );
}

function ColoMain() {
  const vols = coloVolume.map((v, i) => ({ w: i, up: coloVolumeUp[i] ? v : null, down: coloVolumeUp[i] ? null : v }));
  return (
    <div style={{ position: "absolute", left: 10, top: 26, zIndex: 2 }}>
      <ComposedChart width={1545} height={997} data={vols} margin={{ top: 0, right: 0, bottom: 0, left: 0 }}>
        {bbShade(coloBbUpper, coloBbLower)}
        <CartesianGrid stroke={GRID} strokeWidth={1.5} />
        <XAxis type="number" dataKey="w" domain={[-0.733, 143.05]} ticks={coloTimeTicks} allowDataOverflow hide interval={0} />
        <YAxis
          orientation="right"
          type="number"
          domain={[9.395, 55.77]}
          ticks={coloPriceTicks}
          allowDataOverflow
          interval={0}
          width={54}
          tickLine={false}
          axisLine={false}
          tickFormatter={(t: number) => t.toFixed(2)}
          tick={{ fontFamily: FONT, fontSize: 12.5, fill: "#131722" }}
        />
        <YAxis yAxisId="vol" hide type="number" domain={[0, 997]} allowDataOverflow />
        <Bar yAxisId="vol" dataKey="up" stackId="v" fill={UP_BAR} barSize={9} isAnimationActive={false} />
        <Bar yAxisId="vol" dataKey="down" stackId="v" fill={DOWN_BAR} barSize={9} isAnimationActive={false} />
        <ReferenceLine y={44.39} stroke={BLUE} strokeWidth={1} strokeDasharray="1 3" />
        {band("ribbon", coloRibbonWeeks, coloRibbonUpper, coloRibbonLower)}
        {line("bbUp", toRows(coloBbUpper), RED, 1.2)}
        {line("bbLo", toRows(coloBbLower), TEAL, 1.2)}
        {line("ema34", toRows(coloEma34), LIGHT_GREEN, 2.5)}
        {line("yellow", toRows(coloStormYellow), YELLOW, 1.3)}
        {line("stormBlue", toRows(coloStormBlue), BLUE, 1.2)}
        {line("ema55", toRows(coloEma55), DARK_GREEN, 3.5)}
        {line("ema89", toRows(coloEma89), ORANGE, 4)}
        {line("sma200", toRows(coloSma200), SMA_RED, 5)}
        {line("basis", toRows(coloBbBasis), BLUE, 3.5, "4 7.5")}
        {line("close", seqRows(coloClose, -1), BLUE, 4)}
        <ReferenceLine y={27} stroke={RED} strokeWidth={4} />
        {seg("trend", coloTrend, RED, 4.5)}
        {seg("breakout", coloBreakout, RED, 4.5)}
        {seg("arrow", coloArrow, RED, 3)}
        {seg("headA", coloArrowHeadA, RED, 3)}
        {seg("headB", coloArrowHeadB, RED, 3)}
        {coloDividends.map((w) => (
          <ReferenceDot key={w} x={w} y={10} r={9} shape={<DividendDot />} ifOverflow="visible" />
        ))}
      </ComposedChart>
    </div>
  );
}

function RatioMain() {
  return (
    <div style={{ position: "absolute", left: 1614, top: 26, zIndex: 2 }}>
      <ComposedChart width={1238} height={998} data={toRows(ratioClose)} margin={{ top: 0, right: 0, bottom: 0, left: 0 }}>
        {bbShade(ratioBbUpper, ratioBbLower)}
        <CartesianGrid stroke={GRID} strokeWidth={1.5} />
        <XAxis type="number" dataKey="w" domain={[-5.75, 316.4]} ticks={ratioGridTicks} allowDataOverflow hide interval={0} />
        <YAxis
          orientation="right"
          type="number"
          domain={[0.03227, 0.10247]}
          ticks={ratioPriceTicks}
          allowDataOverflow
          interval={0}
          width={62}
          tickLine={false}
          axisLine={false}
          tickFormatter={(t: number) => (t === 0.06 ? "" : t.toFixed(4))}
          tick={{ fontFamily: FONT, fontSize: 12.5, fill: "#131722" }}
        />
        {band("ribbon", ratioEma89Weeks, ratioRibbonUpper, ratioRibbonLower)}
        {line("bbUp", toRows(ratioBbUpper), RED, 1.2)}
        {line("bbLo", toRows(ratioBbLower), TEAL, 1.2)}
        {line("ema34", toRows(ratioEma34), LIGHT_GREEN, 1.2)}
        {line("yellow", toRows(ratioStormYellow), YELLOW, 1.3)}
        {line("stormBlue", toRows(ratioStormBlue), BLUE, 1.2)}
        {line("ema55", toRows(ratioEma55), DARK_GREEN, 2.5)}
        {line("ema89", ratioEma89Weeks.map((w, i) => ({ w, v: ratioEma89[i] })), ORANGE, 4)}
        {line("sma200", toRows(ratioSma200), SMA_RED, 5)}
        {line("basis", toRows(ratioBbBasis), BLUE, 3.5, "4 7.5")}
        {line("close", toRows(ratioClose), BLUE, 4)}
        {seg("support", ratioSupport, RED, 4)}
        {seg("trend", ratioTrend, RED, 4)}
        {seg("arrow", ratioArrow, "#4caf50", 3.5)}
        {seg("headA", ratioArrowHeadA, "#4caf50", 3.5)}
        {seg("headB", ratioArrowHeadB, "#4caf50", 3.5)}
        <ReferenceLine y={0.0597} stroke={BLUE} strokeWidth={1} strokeDasharray="1 3" />
      </ComposedChart>
    </div>
  );
}

function Logo() {
  return (
    <svg width={32} height={16} viewBox="0 0 32 16" style={{ position: "absolute", left: 11, top: 1322 }}>
      <path d="M0 0h13v16H7V6H0z" fill="#131722" />
      <circle cx="17" cy="3.2" r="3.2" fill="#131722" />
      <path d="M22 0h9.5L24 16h-8z" fill="#131722" />
    </svg>
  );
}

function Circle({ x, y, text }: { x: number; y: number; text: string }) {
  return (
    <div style={{ position: "absolute", left: x - 9, top: y - 10, width: 18, height: 20, borderRadius: 10, background: "#f0f1f4", textAlign: "center", lineHeight: "20px", fontFamily: FONT, fontSize: 11, color: "#555", zIndex: 5 }}>
      {text}
    </div>
  );
}

function Frame({ x, y, w, h }: { x: number; y: number; w: number; h: number }) {
  return <div style={{ position: "absolute", left: x, top: y, width: w, height: h, background: "#f0f1f4", zIndex: 4 }} />;
}

export default function App() {
  return (
    <div style={{ position: "absolute", left: 0, top: 0, width: 2862, height: 1360, background: "#fff", overflow: "hidden" }}>
      <Abs x={10} y={15} size={12.5}>ulysse1688 created with TradingView.com, Jul 17, 2026 16:32 UTC-4</Abs>

      {/* watermarks sit under the transparent charts */}
      <Abs x={576} y={500} size={77} color="#d3d4d6" z={1}>COLO, 1W</Abs>
      <Abs x={531} y={566} size={36} spacing={-0.9} color="#d9dadc" z={1}>Global X MSCI Colombia ETF</Abs>
      <Abs x={1943} y={500} size={77} color="#d3d4d6" z={1}>COLO/SPY, 1W</Abs>
      <Abs x={2120} y={568} size={36} color="#d9dadc" z={1}>COLO/SPY</Abs>

      <ColoMain />
      <StochPane
        x={10} y={1023} width={1545} height={277}
        domainX={[-0.733, 143.05]} domainY={[12, 110.26]}
        yTicks={coloStochTicks} timeTicks={coloTimeTicks} timeLabels={coloTimeLabels}
        k={seqRows(coloStochK, -1)} d={seqRows(coloStochD, -1)} axisSide="right"
      />
      <RatioMain />
      <StochPane
        x={1560} y={1025} width={1230} height={274}
        domainX={[-5.71, 318.9]} domainY={[-10.2, 112.9]}
        yTicks={ratioStochTicks} timeTicks={ratioTimeTicks} timeLabels={ratioTimeLabels}
        k={toRows(ratioStochK)} d={toRows(ratioStochD)} axisSide="left"
      />

      <Frame x={9} y={25} w={1547} h={2} />
      <Frame x={9} y={1299} w={1547} h={2} />
      <Frame x={9} y={25} w={2} h={1276} />
      <Frame x={1554} y={25} w={2} h={1276} />
      <Frame x={1560} y={25} w={1293} h={2} />
      <Frame x={1560} y={1298} w={1293} h={2} />
      <Frame x={1560} y={25} w={2} h={1275} />
      <Frame x={2851} y={25} w={2} h={1275} />
      <div style={{ position: "absolute", left: 9, top: 1022, width: 1547, height: 2, background: "#e0e3eb", zIndex: 4 }} />
      <div style={{ position: "absolute", left: 1560, top: 1024, width: 1293, height: 2, background: "#e0e3eb", zIndex: 4 }} />

      <Abs x={1516} y={44}>USD</Abs>

      <Tag x={1463} top={262} w={37} bg={BLUE} align="center" text="COLO" />
      <Tag x={1501} top={262} w={47} bg={BLUE} align="center" text="44.39" />
      <Tag x={1501} top={637} w={47} bg={RED} align="center" text="27.00" />
      <Tag x={2726} top={627} w={63} bg={BLUE} align="center" text="COLO/SPY" />
      <Tag x={2791} top={627} w={49} bg={BLUE} align="center" text="0.0597" />
      <Tag x={2759} top={644} w={30} bg={BLUE} align="center" text="Post" />
      <Tag x={2791} top={644} w={49} bg={BLUE} align="center" text="0.0597" />

      <Legend x={18} y={42} text="Global X MSCI Colombia ETF · 1W · NYSE Arca" values={[["44.39", BLUE], ["+0.11 (+0.25%)", BLUE]]} />
      <Legend x={18} y={59} text="Vol" />
      <Legend x={18} y={76} text="MA Ribbon (EMA, 34, EMA, 55, EMA, 89, SMA, 200)" />
      <Legend x={18} y={93} text="BB (20, SMA, close, 2)" />
      <Legend x={18} y={110} text="Perfect Storm System 7.1 (Week, hlc3, 0, 4, 33, 20, close)" />
      <Legend x={18} y={1039} text="Stoch (60, 1, 3)" />

      <Legend x={1622} y={42} text="COLO/SPY · 1W · NYSE Arca" values={[["0.0597", BLUE], ["+0.0011 (+1.82%)", BLUE]]} />
      <Legend x={1622} y={58} text="MA Ribbon (EMA, 34, EMA, 55, EMA, 89, SMA, 200)" values={[["0.0555", LIGHT_GREEN], ["0.0542", DARK_GREEN], ["0.0529", ORANGE], ["0.0492", SMA_RED]]} />
      <Legend x={1622} y={76} text="Perfect Storm System 7.1 (Week, hlc3, 0, 4, 33, 20, close)" values={stormValues} />
      <Legend x={1622} y={93} text="BB (20, SMA, close, 2)" values={[["0.0562", BLUE], ["0.0634", RED], ["0.0490", TEAL]]} />
      <Legend x={1622} y={1040} text="Stoch (14, 1, 3)" values={[["76.03", BLUE], ["66.90", ORANGE]]} />

      <Circle x={1587} y={1287} text="Z" />
      <Circle x={2822} y={1287} text="A" />

      <Logo />
      <Abs x={49} y={1330} size={22} weight={600}>TradingView</Abs>
    </div>
  );
}
